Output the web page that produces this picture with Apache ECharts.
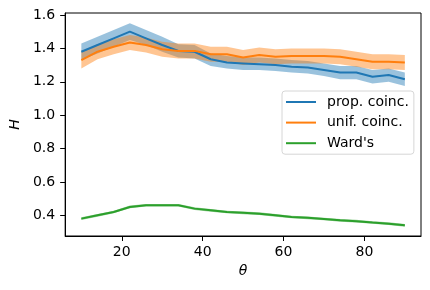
<!DOCTYPE html>
<html>
<head>
<meta charset="utf-8">
<script src="https://cdn.jsdelivr.net/npm/echarts@6/dist/echarts.min.js"></script>
<style>html,body{margin:0;padding:0;background:#fff}#c{width:430px;height:290px}</style>
</head>
<body>
<div id="c"></div>
<script>
var theta = [10,14,18,22,26,30,34,38,42,46,50,54,58,62,66,70,74,78,82,86,90];
var propMean  = [1.38,1.42,1.46,1.50,1.46,1.42,1.385,1.38,1.335,1.315,1.31,1.305,1.30,1.29,1.285,1.27,1.255,1.255,1.23,1.24,1.215];
var propLower = [1.33,1.37,1.41,1.45,1.42,1.38,1.345,1.34,1.295,1.28,1.27,1.27,1.265,1.255,1.25,1.235,1.215,1.215,1.19,1.20,1.175];
var propUpper = [1.43,1.47,1.51,1.55,1.51,1.47,1.425,1.42,1.37,1.355,1.345,1.345,1.34,1.33,1.325,1.31,1.295,1.295,1.27,1.28,1.255];
var unifMean  = [1.33,1.38,1.41,1.435,1.42,1.395,1.385,1.385,1.365,1.365,1.345,1.36,1.35,1.355,1.355,1.355,1.35,1.335,1.32,1.32,1.315];
var unifLower = [1.28,1.335,1.365,1.39,1.375,1.35,1.34,1.34,1.32,1.32,1.30,1.315,1.305,1.31,1.31,1.31,1.305,1.29,1.275,1.275,1.27];
var unifUpper = [1.38,1.425,1.455,1.48,1.465,1.44,1.43,1.43,1.41,1.41,1.39,1.405,1.395,1.40,1.40,1.40,1.395,1.38,1.365,1.365,1.36];
var wardMean  = [0.38,0.40,0.42,0.45,0.46,0.46,0.46,0.44,0.43,0.42,0.415,0.41,0.40,0.39,0.385,0.378,0.37,0.365,0.357,0.35,0.34];
var wardLower = [0.372,0.392,0.412,0.442,0.452,0.452,0.452,0.432,0.422,0.412,0.407,0.402,0.392,0.382,0.377,0.370,0.362,0.357,0.349,0.342,0.332];
var wardUpper = [0.388,0.408,0.428,0.458,0.468,0.468,0.468,0.448,0.438,0.428,0.423,0.418,0.408,0.398,0.393,0.386,0.378,0.373,0.365,0.358,0.348];
var names = ['prop. coinc.','unif. coinc.',"Ward's"];
var xTicks = [20,40,60,80];
var yTicks = [0.4,0.6,0.8,1.0,1.2,1.4,1.6];

var colors = ['#1f77b4','#ff7f0e','#2ca02c'];
var bandColors = ['rgba(31,119,180,0.45)','rgba(255,127,14,0.45)','rgba(44,160,44,0.45)'];
var means = [propMean, unifMean, wardMean];
var lowers = [propLower, unifLower, wardLower];
var uppers = [propUpper, unifUpper, wardUpper];

function pairs(ys){ return theta.map(function(t,i){return [t, ys[i]];}); }

function bandSeries(k){
  return {
    type:'custom', silent:true, z:1, clip:true,
    data:[[theta[0], lowers[k][0]]],
    encode:{x:0,y:1},
    renderItem:function(params, api){
      var pts = [];
      for (var i=0;i<theta.length;i++) pts.push(api.coord([theta[i], uppers[k][i]]));
      for (var j=theta.length-1;j>=0;j--) pts.push(api.coord([theta[j], lowers[k][j]]));
      return {type:'polygon', shape:{points:pts}, style:{fill:bandColors[k], stroke:null}};
    }
  };
}

var series = [];
for (var k=0;k<3;k++){
  series.push({
    name:names[k], type:'line', data:pairs(means[k]), showSymbol:false, symbol:'none',
    lineStyle:{color:colors[k], width:2}, itemStyle:{color:colors[k]}, z:3 + k, silent:true
  });
  series.push(bandSeries(k));
}

var font = 'DejaVu Sans';
var chart = echarts.init(document.getElementById('c'), null, {renderer:'canvas'});
chart.setOption({
  animation:false,
  grid:{left:62, right:9, top:13, bottom:54, show:true, borderColor:'#000', borderWidth:1, backgroundColor:'transparent'},
  legend:{
    data:names, orient:'vertical', left:282, top:91, itemWidth:30, itemHeight:2, icon:'rect', itemGap:6.6,
    padding:[4,5,4,4], backgroundColor:'rgba(255,255,255,0.8)', borderColor:'#d6d6d6', borderWidth:1, borderRadius:3,
    textStyle:{fontFamily:font, fontSize:14, color:'#000', padding:[0,0,0,6]}
  },
  xAxis:{
    type:'value', min:6, max:94,
    name:'θ', nameLocation:'middle', nameGap:26,
    nameTextStyle:{fontFamily:font, fontSize:14, fontStyle:'italic', color:'#000'},
    axisLine:{show:true, onZero:false, lineStyle:{color:'#000', width:1}},
    axisTick:{show:true, length:5, lineStyle:{color:'#000'}, customValues:xTicks},
    axisLabel:{fontFamily:font, fontSize:14, color:'#000', margin:9, customValues:xTicks, formatter:function(v){return String(v);}},
    splitLine:{show:false}
  },
  yAxis:{
    type:'value', min:0.276, max:1.612,
    name:'H', nameLocation:'middle', nameGap:42,
    nameTextStyle:{fontFamily:font, fontSize:14, fontStyle:'italic', color:'#000'},
    axisLine:{show:true, onZero:false, lineStyle:{color:'#000', width:1}},
    axisTick:{show:true, length:5, lineStyle:{color:'#000'}, customValues:yTicks},
    axisLabel:{fontFamily:font, fontSize:14, color:'#000', margin:10, customValues:yTicks, formatter:function(v){return v.toFixed(1);}},
    splitLine:{show:false}
  },
  series:series
});
</script>
</body>
</html>
